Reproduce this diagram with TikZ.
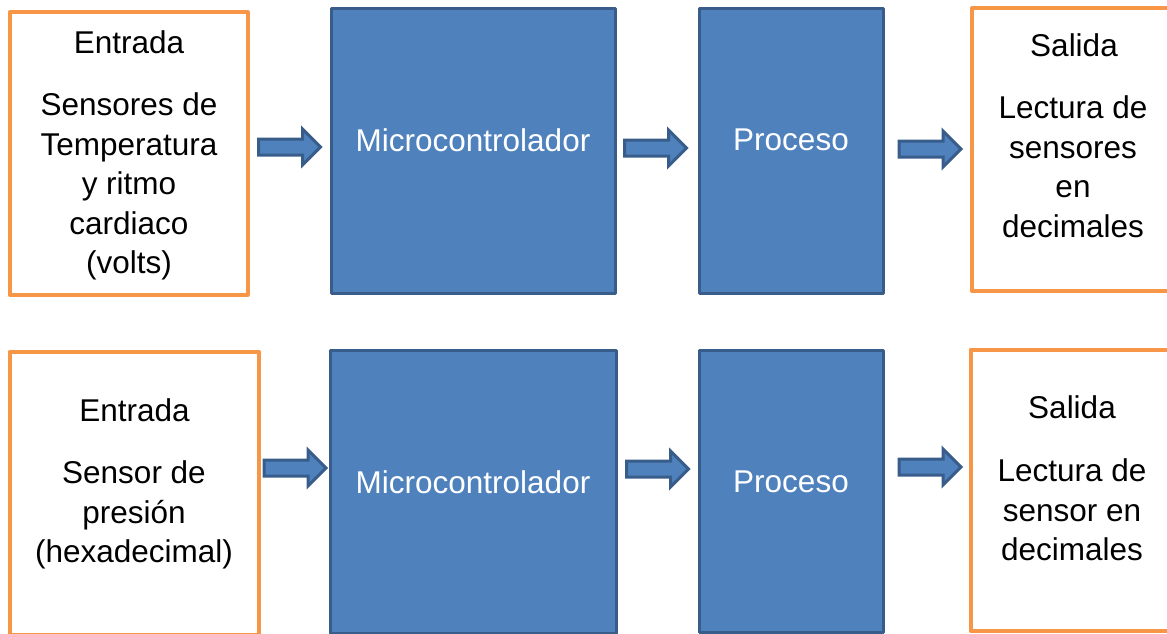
\documentclass[tikz,border=0pt]{standalone}
\usepackage{fontspec}
\setmainfont{Liberation Sans}
\usetikzlibrary{shapes.arrows}
\definecolor{borange}{HTML}{F79646}
\definecolor{bblue}{HTML}{4F81BD}
\definecolor{bdark}{HTML}{385D8A}
\tikzset{
  iobox/.style={draw=borange, line width=4pt, fill=white, rectangle, inner sep=0pt, line join=round},
  cpubox/.style={draw=bdark, line width=3pt, fill=bblue, rectangle, inner sep=0pt, line join=round},
  txt/.style={font=\fontsize{31.5}{39.6}\selectfont, inner sep=0pt, align=center, text=black},
  wtxt/.style={txt, text=white},
  barrow/.style={single arrow, draw=bdark, fill=bblue, line width=3pt, inner xsep=0pt, inner ysep=6.5pt,
    minimum height=62pt, minimum width=33pt, single arrow head extend=10pt,
    single arrow tip angle=90, anchor=center}
}
\begin{document}
\begin{tikzpicture}[x=1pt,y=-1pt]
\useasboundingbox (0,0) rectangle (1167,634);
\clip (0,0) rectangle (1167,634);
% top row
\node[iobox, minimum width=238pt, minimum height=282pt] (in1) at (128.5,153.5) {};
\node[cpubox, minimum width=284pt, minimum height=284.5pt] (mc1) at (473,150.75) {};
\node[cpubox, minimum width=184.5pt, minimum height=284.5pt] (pr1) at (791.25,150.75) {};
\node[iobox, minimum width=208pt, minimum height=283pt] (out1) at (1076,149.5) {};
% bottom row
\node[iobox, minimum width=249.5pt, minimum height=283pt] (in2) at (134.25,493.5) {};
\node[cpubox, minimum width=286pt, minimum height=283pt] (mc2) at (473,491.5) {};
\node[cpubox, minimum width=184pt, minimum height=282pt] (pr2) at (791,491) {};
\node[iobox, minimum width=209.5pt, minimum height=281.5pt] (out2) at (1075.25,490.25) {};
% texts top
\node[txt, anchor=base] (in1t) at (129,54) {Entrada};
\node[txt, anchor=north] (in1b) at (129,92.4) {Sensores de\\Temperatura\\y ritmo\\cardiaco\\(volts)};
\node[wtxt, anchor=base] (mc1t) at (473,151) {Microcontrolador};
\node[wtxt, anchor=base] (pr1t) at (791,150) {Proceso};
\node[txt, anchor=base] (out1t) at (1074,57) {Salida};
\node[txt, anchor=north] (out1b) at (1073,95.4) {Lectura de\\sensores\\en\\decimales};
% texts bottom
\node[txt, anchor=base] (in2t) at (134.5,421) {Entrada};
\node[txt, anchor=north] (in2b) at (134,460.4) {Sensor de\\presión\\(hexadecimal)};
\node[wtxt, anchor=base] (mc2t) at (473,493) {Microcontrolador};
\node[wtxt, anchor=base] (pr2t) at (791,492) {Proceso};
\node[txt, anchor=base] (out2t) at (1072,418) {Salida};
\node[txt, anchor=north] (out2b) at (1072,458.4) {Lectura de\\sensor en\\decimales};
% block arrows
\node[barrow] (a1) at (285.5,147) {};
\node[barrow] (a2) at (651.5,148) {};
\node[barrow] (a3) at (926,149) {};
\node[barrow] (b1) at (291,468) {};
\node[barrow] (b2) at (653.5,469) {};
\node[barrow] (b3) at (926,467) {};
\end{tikzpicture}
\end{document}
